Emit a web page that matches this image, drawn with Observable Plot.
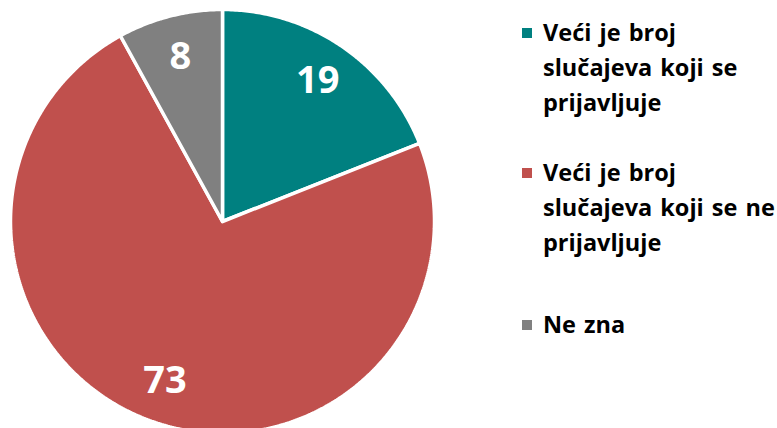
<!DOCTYPE html>
<html>
<head>
<meta charset="utf-8">
<script src="https://cdn.jsdelivr.net/npm/d3@7"></script>
<script src="https://cdn.jsdelivr.net/npm/@observablehq/plot@0.6"></script>
<style>
  html, body { margin: 0; padding: 0; background: #fff; }
  #wrap { position: relative; width: 777px; height: 428px; overflow: hidden; }
  #legend { position: absolute; left: 0; top: 0; font-family: "Open Sans", sans-serif; font-weight: 700; font-size: 23.5px; color: #000; letter-spacing: 0px; word-spacing: 2px; }
  .item { position: absolute; left: 543px; line-height: 35px; white-space: nowrap; }
  .sw { position: absolute; width: 10px; height: 10px; left: -21px; top: 13px; }
</style>
</head>
<body>
<div id="wrap"></div>
<script>
const categories = ["Veći je broj slučajeva koji se prijavljuje", "Veći je broj slučajeva koji se ne prijavljuje", "Ne zna"];
const legendLines = [["Veći je broj", "slučajeva koji se", "prijavljuje"], ["Veći je broj", "slučajeva koji se ne", "prijavljuje"], ["Ne zna"]];
const values = [19, 73, 8];
const colors = ["#008080", "#C0504D", "#808080"];

const data = categories.map((c, i) => ({category: c, value: values[i], color: colors[i]}));
const arcs = d3.pie().sort(null).value(d => d.value)(data);

// polygon points for each slice (angle measured clockwise from 12 o'clock)
const pts = [];
arcs.forEach(a => {
  const n = Math.max(2, Math.ceil((a.endAngle - a.startAngle) / 0.01));
  pts.push({category: a.data.category, x: 0, y: 0});
  for (let k = 0; k <= n; k++) {
    const t = a.startAngle + (a.endAngle - a.startAngle) * k / n;
    pts.push({category: a.data.category, x: Math.sin(t), y: Math.cos(t)});
  }
  pts.push({category: a.data.category, x: 0, y: 0});
});
const labels = arcs.map(a => {
  const m = (a.startAngle + a.endAngle) / 2;
  return {text: String(a.data.value), x: 0.8 * Math.sin(m), y: 0.8 * Math.cos(m)};
});

const chart = Plot.plot({
  width: 777,
  height: 428,
  x: {domain: [-1, 1], range: [10, 434], axis: null},
  y: {domain: [-1, 1], range: [433, 9], axis: null},
  color: {domain: categories, range: colors},
  marks: [
    Plot.line(pts, {x: "x", y: "y", z: "category", fill: "category", stroke: "#fff", strokeWidth: 3.5, strokeLinejoin: "miter", curve: "linear"}),
    Plot.text(labels, {x: "x", y: "y", text: "text", fill: "#fff", fontSize: 38, fontWeight: 700, fontFamily: "'Open Sans', sans-serif"})
  ]
});
chart.style.position = "absolute";
chart.style.left = "0";
chart.style.top = "0";
const wrap = document.getElementById("wrap");
wrap.appendChild(chart);

const legend = document.createElement("div");
legend.id = "legend";
const tops = [15, 155, 307];
categories.forEach((c, i) => {
  const it = document.createElement("div");
  it.className = "item";
  it.style.top = tops[i] + "px";
  it.title = c;
  const sw = document.createElement("div");
  sw.className = "sw";
  sw.style.background = colors[i];
  it.appendChild(sw);
  legendLines[i].forEach((ln, k) => {
    if (k) it.appendChild(document.createElement("br"));
    it.appendChild(document.createTextNode(ln));
  });
  legend.appendChild(it);
});
wrap.appendChild(legend);
</script>
</body>
</html>
